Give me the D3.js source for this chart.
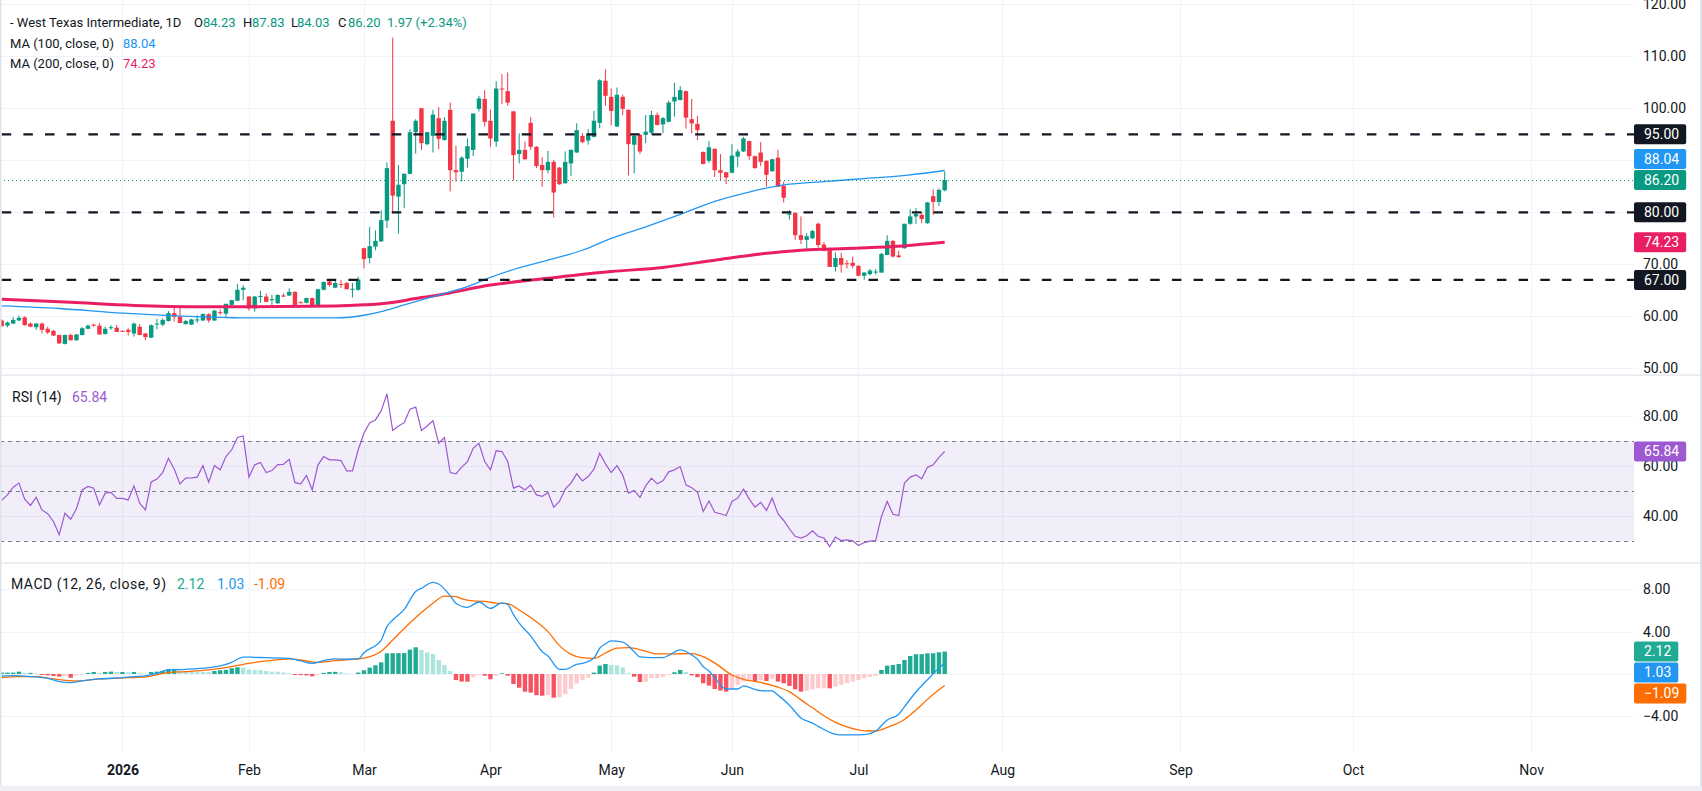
<!DOCTYPE html>
<html>
<head>
<meta charset="utf-8">
<script src="https://cdn.jsdelivr.net/npm/d3@7"></script>
<style>
  html, body { margin: 0; padding: 0; background: #fff; }
  svg { display: block; }
</style>
</head>
<body>
<script>
// daily candles, one entry per trading bar (bar 21 = first bar of 2026)
var opens = [59.2,58.2,58.6,59.2,59.8,58.6,57.9,58.6,57.6,57.2,
  56.4,54.7,56.4,55.4,56.4,57.6,58.4,58.2,56.6,57.7,
  57.8,57.2,57.4,56.7,58.0,56.7,55.9,58.5,58.4,59.1,
  60.6,59.9,58.5,58.4,59.2,59.2,60.4,59.2,60.8,60.5,
  62.2,63.0,65.1,63.8,61.5,63.8,63.8,63.1,62.5,64.0,
  64.0,64.7,62.7,62.6,63.5,61.9,65.1,66.7,65.5,66.2,
  66.4,65.1,65.1,73.1,71.2,73.4,74.4,78.4,97.6,83.0,
  85.4,87.4,95.4,100.0,93.1,94.7,98.1,93.9,99.7,88.1,
  87.8,90.3,92.0,99.9,101.8,97.6,93.6,103.8,103.3,99.4,
  91.2,92.0,97.2,92.6,89.1,88.1,89.7,88.6,85.6,89.4,
  91.5,94.7,93.8,94.5,97.2,105.3,102.2,96.5,102.2,99.7,
  93.0,94.9,94.9,95.3,98.7,96.9,97.4,101.3,101.6,103.3,
  97.9,97.0,91.6,89.9,92.2,88.1,87.7,87.6,90.7,91.7,
  93.7,90.8,91.5,89.9,87.9,90.5,85.1,79.6,79.9,75.6,
  74.7,75.0,77.8,73.8,72.9,69.5,71.2,70.2,70.3,69.7,
  67.8,68.1,68.5,68.4,71.8,74.5,71.7,73.1,77.8,79.2,
  79.5,77.9,83.1,82.0,84.23];
var highs = [59.4,59.0,59.8,60.1,60.0,58.8,58.7,58.8,58.0,57.4,
  56.5,56.5,56.7,56.6,57.9,58.4,58.6,58.7,58.0,58.3,
  58.3,57.3,57.7,58.8,58.5,56.8,58.4,59.5,59.6,61.0,
  61.8,61.8,59.3,59.5,60.2,60.5,60.6,61.2,61.3,62.4,
  63.2,66.2,66.0,63.9,63.9,64.9,64.4,64.1,64.2,64.4,
  65.4,64.8,62.9,63.6,63.6,65.3,66.7,67.0,67.0,67.0,
  66.6,66.4,67.6,73.2,77.2,76.5,80.4,89.6,113.6,89.1,
  87.5,96.0,97.9,100.1,95.5,99.7,100.2,98.3,101.1,92.8,
  90.8,94.2,99.0,102.4,103.5,99.8,105.2,106.6,106.9,99.5,
  95.2,93.6,98.3,92.7,90.6,91.8,90.1,88.7,91.7,92.1,
  97.1,95.2,96.0,99.5,105.6,107.5,103.8,104.0,102.6,99.8,
  95.0,95.0,98.7,99.5,99.2,98.3,101.5,104.9,104.3,103.4,
  101.8,98.5,91.7,93.7,92.3,91.2,87.8,93.1,92.1,94.5,
  93.8,90.9,93.5,90.0,90.3,92.0,85.9,80.4,80.0,79.2,
  76.0,76.6,78.0,74.3,73.0,72.3,72.2,70.8,71.5,69.8,
  68.5,69.1,69.1,72.2,75.6,74.7,72.6,77.8,80.6,80.8,
  80.1,82.0,84.4,84.6,87.83];
var lows = [58.0,57.9,58.5,59.1,58.2,57.9,57.4,56.7,56.6,56.2,
  54.7,54.6,55.3,55.3,56.3,57.5,58.0,56.5,56.5,57.4,
  57.0,57.0,56.3,56.1,56.4,55.4,55.8,57.5,58.1,59.0,
  59.0,58.7,58.4,58.3,58.7,59.1,58.8,59.1,60.3,59.9,
  62.0,62.9,63.1,61.1,60.9,62.6,62.7,62.2,62.4,63.7,
  63.9,62.1,62.5,62.5,61.8,61.9,65.0,65.7,65.4,65.4,
  65.2,63.6,64.9,69.2,70.2,72.7,74.3,77.0,79.8,75.9,
  80.8,87.3,91.3,92.0,92.9,91.5,92.1,93.8,84.0,85.9,
  85.9,88.6,90.8,99.4,96.5,92.6,92.6,100.8,100.5,86.1,
  89.4,90.0,92.0,88.5,84.9,87.5,79.0,85.3,85.5,87.0,
  91.4,93.3,93.0,94.4,96.2,100.5,96.7,96.4,98.7,87.1,
  87.5,91.2,93.3,95.0,96.7,95.2,97.3,98.4,101.5,96.1,
  95.2,93.9,89.2,89.5,86.8,86.2,85.4,87.5,88.7,91.6,
  90.1,88.4,88.9,84.9,87.8,84.9,81.9,78.6,74.7,73.9,
  72.9,74.9,73.2,72.5,69.5,68.6,68.4,69.2,69.2,67.8,
  67.0,67.9,68.0,68.4,71.8,71.3,71.2,73.0,77.6,77.8,
  77.9,77.8,79.5,81.2,84.03];
var closes = [58.1,58.8,59.3,59.7,58.3,58.0,58.6,57.4,56.9,56.3,
  54.8,56.4,55.4,56.5,57.7,58.2,58.2,56.5,57.6,57.9,
  57.0,57.1,57.0,58.6,56.4,56.0,58.3,58.6,59.3,60.6,
  59.9,58.7,59.1,59.4,59.4,60.45,59.2,61.1,60.6,62.4,
  63.1,65.1,65.5,61.5,63.8,63.9,62.8,63.3,64.1,63.9,
  64.7,62.2,62.6,63.5,61.9,65.2,66.6,66.0,66.4,66.1,
  65.2,65.3,67.1,71.0,73.5,74.5,78.5,88.5,83.2,85.3,
  87.4,95.4,97.6,93.3,95.4,98.8,94.1,97.6,88.1,87.7,
  90.5,92.7,99.0,101.9,97.4,94.2,103.8,103.7,101.1,91.0,
  92.0,90.2,92.6,88.9,88.1,89.7,83.8,85.4,89.7,92.0,
  95.8,93.5,95.1,97.6,105.4,102.4,99.5,102.6,99.9,93.1,
  94.7,91.7,95.5,98.7,96.8,98.1,101.1,102.2,103.5,98.2,
  97.1,95.8,89.3,92.5,88.1,87.6,86.7,90.9,91.7,94.2,
  90.8,88.5,89.7,87.2,90.2,84.9,82.8,79.7,75.6,74.7,
  75.4,76.4,73.7,72.6,69.5,71.2,69.9,70.1,69.7,67.8,
  68.4,68.8,68.6,72.0,74.5,71.5,71.4,77.8,79.2,79.7,
  78.7,81.9,82.0,84.3,86.20];

// moving averages: [bar, value]
var ma100 = [[0,62.0],[10,61.5],[21,60.6],[35,59.9],[43,59.7],[58,59.7],[63,60.2],[66,60.9],
  [70,62.2],[76,64.1],[81,65.7],[85,67.5],[89,69.0],[96,71.1],[101,72.7],[106,75.0],[112,77.2],
  [118,79.6],[124,82.1],[130,83.9],[137,85.4],[143,85.9],[149,86.4],[158,87.2],[164,88.04]];
var ma200 = [[0,63.3],[12,62.7],[23,62.1],[35,61.85],[43,61.85],[58,62.0],[63,62.2],[66,62.4],
  [73,63.6],[76,64.1],[85,66.0],[95,67.3],[106,68.6],[115,69.4],[124,70.8],[132,72.0],[139,72.7],
  [144,72.95],[155,73.4],[164,74.23]];

// RSI(14), one value per bar
var rsi = [46.3,48.5,51.6,53.2,46.8,44.3,47.6,42.5,41.0,37.9,
  32.6,41.2,38.8,43.0,50.5,51.9,51.2,44.5,49.2,49.5,
  47.1,47.1,46.5,52.1,45.2,42.5,53.7,54.8,57.4,63.1,
  58.8,52.9,55.2,55.3,55.6,60.2,53.6,60.2,58.5,63.8,
  66.5,71.4,72.0,55.6,60.5,61.4,57.4,58.2,60.6,60.7,
  62.7,53.4,52.9,56.2,50.5,60.5,63.8,62.5,62.5,62.2,
  58.1,58.1,66.5,73.1,77.3,78.4,82.1,88.8,74.2,76.0,
  77.3,82.7,83.5,74.2,76.0,78.1,69.1,71.4,57.4,56.9,
  59.6,61.8,67.1,69.1,61.8,58.5,66.1,65.8,61.8,51.2,
  52.1,50.5,52.5,48.5,47.9,49.5,43.6,45.9,50.8,53.2,
  56.9,54.1,55.8,58.8,65.1,60.9,57.4,60.2,56.5,49.2,
  50.3,47.5,52.1,55.2,52.9,54.1,57.7,58.5,59.8,52.5,
  51.4,49.6,41.9,46.1,41.6,41.0,40.3,45.9,47.2,50.8,
  46.9,43.6,45.5,42.3,47.2,41.0,38.3,34.9,32.0,31.3,
  32.2,34.2,32.0,31.3,27.9,31.7,30.3,30.6,30.2,28.3,
  29.5,30.1,30.3,39.9,45.9,40.8,40.3,53.2,55.6,56.5,
  54.9,59.5,60.5,63.5,65.84];

// MACD(12,26,9)
var macdLine = [[0,-0.19],[2,-0.16],[5,-0.25],[8,-0.41],[10,-0.72],[12,-0.82],[14,-0.66],[17,-0.47],
  [21,-0.35],[23,-0.25],[25,-0.19],[27,0.06],[29,0.38],[32,0.44],[36,0.6],[38,0.76],[40,1.1],[42,1.6],
  [44,1.57],[46,1.54],[50,1.48],[52,1.23],[54,1.0],[56,1.26],[58,1.42],[60,1.39],[62,1.42],[63,2.0],
  [66,3.2],[67,4.47],[68,5.1],[70,6.1],[72,7.8],[73,8.1],[75,8.66],[76,8.5],[78,7.4],[79,6.68],
  [81,6.3],[83,6.8],[85,6.2],[87,6.72],[88,6.58],[89,5.6],[90,4.8],[92,3.6],[94,2.1],[95,1.7],
  [97,0.44],[98,0.44],[100,0.91],[101,1.0],[103,1.5],[104,2.43],[105,2.85],[106,3.12],[108,3.0],
  [110,2.1],[111,1.61],[113,1.54],[115,1.54],[116,1.75],[118,2.27],[120,1.8],[121,1.4],[122,0.69],
  [123,0.28],[124,-0.35],[126,-1.42],[128,-1.42],[129,-1.13],[131,-1.45],[132,-1.58],[134,-1.6],
  [135,-2.0],[137,-2.95],[139,-4.15],[141,-4.65],[142,-4.95],[144,-5.51],[146,-5.76],[148,-5.76],
  [150,-5.74],[152,-5.4],[154,-4.35],[156,-3.8],[157,-3.1],[159,-1.7],[161,-0.55],[163,0.55],[164,1.03]];
var signalLine = [[0,-0.35],[3,-0.25],[6,-0.25],[9,-0.47],[13,-0.66],[17,-0.47],[22,-0.35],[25,-0.28],
  [29,0.13],[32,0.22],[36,0.38],[39,0.6],[43,1.0],[46,1.23],[50,1.42],[52,1.32],[55,1.1],[58,1.26],
  [61,1.39],[63,1.5],[66,2.15],[68,3.21],[70,4.3],[73,5.8],[75,6.68],[77,7.35],[79,7.3],[80,7.1],
  [82,6.9],[84,6.85],[86,6.7],[88,6.65],[90,6.05],[93,4.94],[95,4.0],[97,2.68],[99,1.85],[101,1.54],
  [103,1.48],[105,1.98],[107,2.45],[109,2.49],[112,2.15],[114,1.89],[116,1.89],[120,1.93],[122,1.64],
  [124,1.05],[127,-0.1],[129,-0.5],[132,-0.8],[135,-1.25],[137,-1.67],[139,-2.45],[141,-3.2],
  [143,-3.95],[145,-4.57],[147,-5.0],[150,-5.37],[152,-5.39],[154,-5.05],[157,-4.3],[159,-3.4],
  [161,-2.4],[163,-1.5],[164,-1.09]];
var hist = [0.13,0.13,0.13,0.22,0.1,0.1,0.06,-0.1,-0.13,-0.19,
  -0.25,-0.19,-0.35,-0.13,-0.06,0.1,0.19,0.1,0.19,0.22,
  0.19,0.19,0.16,0.19,0.1,0.03,0.19,0.22,0.31,0.47,
  0.48,0.28,0.22,0.21,0.2,0.19,0.18,0.28,0.35,0.38,
  0.54,0.63,0.6,0.41,0.38,0.35,0.28,0.22,0.21,0.13,
  0.06,-0.1,-0.11,-0.13,-0.22,-0.1,0.1,0.19,0.2,0.16,
  0.06,0.02,0.13,0.35,0.6,0.82,1.1,1.95,1.96,1.97,
  1.98,2.3,2.52,2.27,2.05,1.89,1.32,0.85,0.28,-0.57,
  -0.72,-0.73,-0.3,-0.12,-0.16,-0.5,-0.16,0.06,-0.16,-0.95,
  -1.3,-1.67,-1.76,-2.0,-2.05,-2.0,-2.24,-2.2,-1.9,-1.4,
  -0.9,-0.57,-0.35,0.13,0.79,0.94,0.85,0.82,0.63,0.1,
  -0.25,-0.76,-0.72,-0.41,-0.4,-0.28,-0.1,0.16,0.38,0.19,
  -0.13,-0.3,-0.88,-1.1,-1.42,-1.57,-1.67,-1.42,-1.04,-0.72,
  -0.6,-0.66,-0.6,-0.66,-0.47,-0.72,-0.88,-1.13,-1.45,-1.67,
  -1.6,-1.45,-1.35,-1.34,-1.36,-1.2,-1.04,-0.88,-0.72,-0.57,
  -0.41,-0.28,-0.16,0.38,0.79,0.85,0.94,1.32,1.7,1.86,
  1.87,1.95,1.96,2.05,2.12];

// axes
var monthLabels = ["2026", "Feb", "Mar", "Apr", "May", "Jun", "Jul", "Aug", "Sep", "Oct", "Nov"];
var monthBars = [21, 43, 63, 85, 106, 127, 149, 174, 205, 235, 266];
var priceTicks = [50, 60, 70, 80, 90, 100, 110, 120];
var rsiTicks = [40, 60, 80];
var macdTicks = [-4, 0, 4, 8];
var levels = [95, 80, 67];
var lastPrice = 86.20;

var width = 1702, height = 791, plotW = 1634;
var font = "Roboto, 'Liberation Sans', Arial, sans-serif";
var up = '#089981', down = '#f23645', ink = '#131722', gridC = '#f0f3fa';

var svg = d3.select('body').append('svg').attr('width', width).attr('height', height)
  .style('font-family', font).style('font-size', '14px');
svg.append('rect').attr('width', width).attr('height', height).attr('fill', '#fff');

var x = d3.scaleLinear().domain([0, 164]).range([1.7, 944.7]);
var y = d3.scaleLinear().domain([50, 120]).range([368.3, 4.3]);
var yRsi = d3.scaleLinear().domain([30, 70]).range([541.3, 441]);
var yMacd = d3.scaleLinear().domain([-4, 8]).range([716.3, 589.3]);
var bars = d3.range(closes.length);

// grid
var grid = svg.append('g').attr('stroke', gridC).attr('stroke-width', 1);
grid.selectAll('line.v').data(monthBars).enter().append('line')
  .attr('x1', function(d) { return Math.round(x(d)) + 0.5; })
  .attr('x2', function(d) { return Math.round(x(d)) + 0.5; })
  .attr('y1', 0).attr('y2', 752);
function hgrid(scale, ticks) {
  grid.selectAll(null).data(ticks).enter().append('line')
    .attr('x1', 0).attr('x2', plotW)
    .attr('y1', function(d) { return Math.round(scale(d)) + 0.5; })
    .attr('y2', function(d) { return Math.round(scale(d)) + 0.5; });
}
hgrid(y, priceTicks); hgrid(yRsi, rsiTicks); hgrid(yMacd, macdTicks);

// MA lines
var maLine = d3.line().x(function(d) { return x(d[0]); }).y(function(d) { return y(d[1]); })
  .curve(d3.curveMonotoneX);

// candles
var gc = svg.append('g');
gc.selectAll('line').data(bars).enter().append('line')
  .attr('x1', function(i) { return x(i); }).attr('x2', function(i) { return x(i); })
  .attr('y1', function(i) { return y(highs[i]); }).attr('y2', function(i) { return y(lows[i]); })
  .attr('stroke', function(i) { return closes[i] >= opens[i] ? up : down; }).attr('stroke-width', 1);
gc.selectAll('rect').data(bars).enter().append('rect')
  .attr('x', function(i) { return x(i) - 2.2; }).attr('width', 4.4)
  .attr('y', function(i) { return y(Math.max(opens[i], closes[i])); })
  .attr('height', function(i) { return Math.max(1, Math.abs(y(opens[i]) - y(closes[i]))); })
  .attr('fill', function(i) { return closes[i] >= opens[i] ? up : down; });

svg.append('path').attr('d', maLine(ma200)).attr('fill', 'none').attr('stroke', '#e91e63').attr('stroke-width', 3);
svg.append('path').attr('d', maLine(ma100)).attr('fill', 'none').attr('stroke', '#2196f3').attr('stroke-width', 1.3);

// horizontal levels
svg.selectAll('line.level').data(levels).enter().append('line')
  .attr('x1', 0).attr('x2', plotW)
  .attr('y1', function(d) { return y(d); }).attr('y2', function(d) { return y(d); })
  .attr('stroke', ink).attr('stroke-width', 2.2)
  .attr('stroke-dasharray', '9.5 12.17').attr('stroke-dashoffset', -1.7);

svg.append('line').attr('x1', 0).attr('x2', plotW)
  .attr('y1', Math.round(y(lastPrice)) + 0.5).attr('y2', Math.round(y(lastPrice)) + 0.5)
  .attr('stroke', up).attr('stroke-width', 1).attr('stroke-dasharray', '1 3');

// RSI pane
svg.append('rect').attr('x', 0).attr('width', plotW)
  .attr('y', yRsi(70)).attr('height', yRsi(30) - yRsi(70))
  .attr('fill', 'rgba(126,87,194,0.1)');
svg.selectAll('line.rsiband').data([70, 50, 30]).enter().append('line')
  .attr('x1', 0).attr('x2', plotW)
  .attr('y1', function(d) { return Math.round(yRsi(d)) + 0.5; })
  .attr('y2', function(d) { return Math.round(yRsi(d)) + 0.5; })
  .attr('stroke', '#787b86').attr('stroke-dasharray', '4 4');
svg.append('path').datum(rsi)
  .attr('d', d3.line().x(function(d, i) { return x(i); }).y(function(d) { return yRsi(d); }))
  .attr('fill', 'none').attr('stroke', '#9c59d1').attr('stroke-width', 1.2);

// MACD pane
function histColor(i) {
  var v = hist[i], p = i > 0 ? hist[i - 1] : v;
  if (v >= 0) return v >= p ? '#22ab94' : '#ace5dc';
  return v < p ? '#f7525f' : '#fccbcd';
}
svg.append('g').selectAll('rect').data(bars).enter().append('rect')
  .attr('x', function(i) { return x(i) - 2.2; }).attr('width', 4.4)
  .attr('y', function(i) { return Math.min(yMacd(hist[i]), yMacd(0)); })
  .attr('height', function(i) { return Math.abs(yMacd(hist[i]) - yMacd(0)); })
  .attr('fill', histColor);
var mLine = d3.line().x(function(d) { return x(d[0]); }).y(function(d) { return yMacd(d[1]); })
  .curve(d3.curveMonotoneX);
svg.append('path').attr('d', mLine(signalLine)).attr('fill', 'none').attr('stroke', '#ff6d00').attr('stroke-width', 1.3);
svg.append('path').attr('d', mLine(macdLine)).attr('fill', 'none').attr('stroke', '#2196f3').attr('stroke-width', 1.3);

// separators and frame
var frame = svg.append('g').attr('fill', '#e0e3eb');
frame.append('rect').attr('x', 0).attr('y', 374.5).attr('width', 1700).attr('height', 1.2);
frame.append('rect').attr('x', 0).attr('y', 562.5).attr('width', 1700).attr('height', 1.2);
frame.append('rect').attr('x', 0).attr('y', 0).attr('width', 1.5).attr('height', height);
frame.append('rect').attr('x', 1700).attr('y', 0).attr('width', 2).attr('height', height);
frame.append('rect').attr('x', 0).attr('y', 786).attr('width', width).attr('height', 5).attr('fill', '#eef0f5');

// right axes
function rightAxis(scale, ticks) {
  var g = svg.append('g').attr('transform', 'translate(' + plotW + ',0)')
    .call(d3.axisRight(scale).tickValues(ticks).tickFormat(d3.format('.2f')).tickSize(0).tickPadding(9));
  g.select('.domain').remove();
  g.attr('font-size', 14).attr('font-family', font);
  g.selectAll('text').attr('fill', ink);
}
rightAxis(y, priceTicks); rightAxis(yRsi, rsiTicks); rightAxis(yMacd, macdTicks);

// time axis
var tAxis = svg.append('g').attr('transform', 'translate(0,752)')
  .call(d3.axisBottom(x).tickValues(monthBars).tickFormat(function(d, i) { return monthLabels[i]; })
    .tickSize(0).tickPadding(13));
tAxis.select('.domain').remove();
tAxis.attr('font-size', 14).attr('font-family', font);
tAxis.selectAll('text').attr('fill', ink)
  .attr('font-weight', function(d, i) { return i === 0 ? 'bold' : null; });

// value tags on the right axis
function tags(items, dir, gap) {
  items.forEach(function(d) { d.cy = d.y; });
  var s = items.slice().sort(function(a, b) { return dir > 0 ? a.cy - b.cy : b.cy - a.cy; });
  for (var k = 1; k < s.length; k++) {
    s[k].cy = dir > 0 ? Math.max(s[k].cy, s[k - 1].cy + gap) : Math.min(s[k].cy, s[k - 1].cy - gap);
  }
  items.forEach(function(d) {
    var g = svg.append('g');
    var r = g.append('rect');
    var t = g.append('text').attr('x', plotW + 10).attr('y', d.cy).attr('dy', '0.35em')
      .attr('fill', '#fff').text(d.text);
    var w = t.node().getComputedTextLength() + 17;
    r.attr('x', plotW).attr('y', d.cy - 10).attr('width', w).attr('height', 20).attr('rx', 2)
      .attr('fill', d.color);
  });
}
var f2 = d3.format('.2f');
tags([
  { y: y(95), text: f2(95), color: ink },
  { y: y(80), text: f2(80), color: ink },
  { y: y(67), text: f2(67), color: ink },
  { y: y(ma100[ma100.length - 1][1]), text: f2(ma100[ma100.length - 1][1]), color: '#2196f3' },
  { y: y(lastPrice), text: f2(lastPrice), color: up },
  { y: y(ma200[ma200.length - 1][1]), text: f2(ma200[ma200.length - 1][1]), color: '#e91e63' }
], -1, 21);
tags([{ y: yRsi(rsi[rsi.length - 1]), text: f2(rsi[rsi.length - 1]), color: '#9c59d1' }], 1, 21);
tags([
  { y: yMacd(hist[hist.length - 1]), text: f2(hist[hist.length - 1]), color: '#22ab94' },
  { y: yMacd(macdLine[macdLine.length - 1][1]), text: f2(macdLine[macdLine.length - 1][1]), color: '#2196f3' },
  { y: yMacd(signalLine[signalLine.length - 1][1]), text: f2(signalLine[signalLine.length - 1][1]), color: '#ff6d00' }
], 1, 21);

// legends: [x, text, colour, optional width]
function legend(parts, yb, size) {
  parts.forEach(function(p) {
    var t = svg.append('text').attr('x', p[0]).attr('y', yb).attr('fill', p[2])
      .style('font-size', size + 'px').text(p[1]);
    if (p[3]) t.attr('textLength', p[3]).attr('lengthAdjust', 'spacing');
  });
}
legend([[10, '- West Texas Intermediate, 1D', ink],
  [194, 'O', ink], [203, '84.23', up], [243, 'H', ink], [252, '87.83', up],
  [291, 'L', ink], [297, '84.03', up], [338, 'C', ink], [348, '86.20', up],
  [387, '1.97 (+2.34%)', up]], 26.5, 13);
legend([[10, 'MA (100, close, 0)', ink], [123, '88.04', '#2196f3']], 47.5, 13);
legend([[10, 'MA (200, close, 0)', ink], [123, '74.23', '#e91e63']], 67.5, 13);
legend([[12, 'RSI (14)', ink], [72, '65.84', '#9c59d1']], 401.5, 14);
legend([[11, 'MACD (12, 26, close, 9)', ink, 155], [177, '2.12', '#22ab94'],
  [217, '1.03', '#2196f3'], [254, '-1.09', '#ff6d00']], 589, 14);
</script>
</body>
</html>
